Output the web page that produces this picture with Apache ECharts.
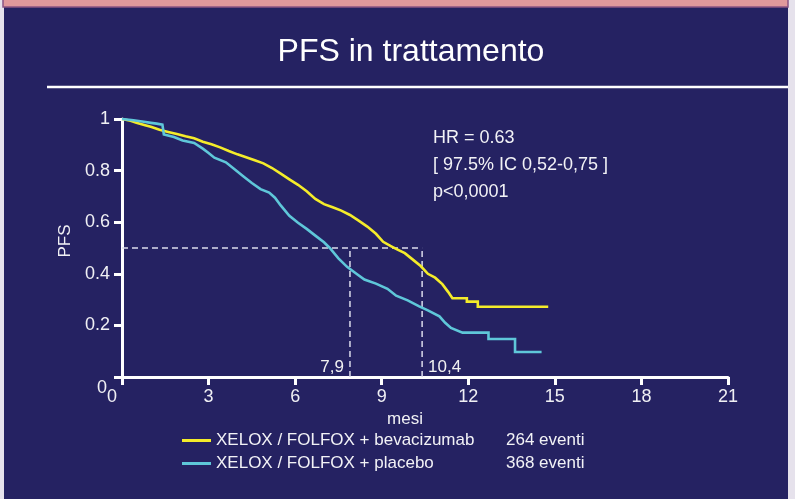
<!DOCTYPE html>
<html>
<head>
<meta charset="utf-8">
<script src="https://cdn.jsdelivr.net/npm/echarts@6/dist/echarts.min.js"></script>
<style>
  html, body { margin: 0; padding: 0; background: #e6e2ec; }
  #chart { width: 795px; height: 499px; }
</style>
</head>
<body>
<div id="chart"></div>
<script>
// Arms of the trial, events per arm and reported median PFS (months)
const seriesNames = ['XELOX / FOLFOX + bevacizumab', 'XELOX / FOLFOX + placebo'];
const eventCounts = [264, 368];
const medianMonths = [10.4, 7.9];
const medianLevel = 0.5;

// Kaplan-Meier curve: bevacizumab arm (months, PFS)
const bevaMonths = [0, 0.3, 0.5, 0.8, 1.0, 1.3, 1.6, 1.9, 2.2, 2.5, 2.8, 3.1, 3.4, 3.7, 4.0, 4.3, 4.6, 4.9, 5.2, 5.5,
  5.8, 6.1, 6.4, 6.7, 7.0, 7.3, 7.6, 7.9, 8.2, 8.5, 8.8, 9.05, 9.3, 9.55, 9.8, 10.1, 10.35, 10.6, 10.85, 11.1,
  11.3, 11.45, 11.95, 11.95, 12.33, 12.33, 14.77];
const bevaPFS = [1.0, 0.993, 0.985, 0.976, 0.97, 0.958, 0.95, 0.942, 0.933, 0.925, 0.912, 0.902, 0.89, 0.876, 0.863,
  0.852, 0.84, 0.828, 0.81, 0.788, 0.766, 0.745, 0.72, 0.69, 0.67, 0.658, 0.645, 0.628, 0.606, 0.583, 0.555, 0.524,
  0.508, 0.494, 0.48, 0.453, 0.43, 0.4, 0.385, 0.36, 0.33, 0.305, 0.305, 0.292, 0.292, 0.272, 0.272];

// Kaplan-Meier curve: placebo arm (months, PFS)
const placeboMonths = [0, 0.4, 0.7, 1.0, 1.2, 1.4, 1.45, 1.8, 2.1, 2.5, 2.8, 3.0, 3.2, 3.6, 3.9, 4.2, 4.5, 4.8, 5.1,
  5.3, 5.5, 5.8, 6.1, 6.4, 6.7, 7.0, 7.2, 7.5, 7.8, 8.1, 8.4, 8.8, 9.2, 9.5, 9.9, 10.3, 10.6, 11.0, 11.2, 11.4,
  11.8, 12.7, 12.7, 13.62, 13.62, 14.54];
const placeboPFS = [1.0, 0.995, 0.99, 0.985, 0.982, 0.978, 0.94, 0.93, 0.917, 0.907, 0.885, 0.868, 0.85, 0.832, 0.805,
  0.778, 0.752, 0.728, 0.715, 0.695, 0.665, 0.625, 0.598, 0.574, 0.548, 0.522, 0.5, 0.46, 0.427, 0.402, 0.378,
  0.362, 0.342, 0.315, 0.297, 0.274, 0.258, 0.235, 0.21, 0.19, 0.172, 0.172, 0.147, 0.147, 0.097, 0.097];

// Axis ticks
const monthTicks = [0, 3, 6, 9, 12, 15, 18, 21];
const pfsTicks = [0, 0.2, 0.4, 0.6, 0.8, 1];

// Statistics block
const statsLines = ['HR = 0.63', '[ 97.5% IC 0,52-0,75 ]', 'p<0,0001'];
const titleText = 'PFS in trattamento';

const BG = '#252262';
const colors = ['#f4ec2a', '#5fc7d9'];
const dashColor = '#dcdcec';
const FONT = '"Liberation Sans", Arial, sans-serif';

const zip = (xs, ys) => xs.map((x, i) => [x, ys[i]]);

const chart = echarts.init(document.getElementById('chart'), null, { renderer: 'canvas' });

const seriesList = [];

// dashed guides at the median
seriesList.push({
  type: 'line', silent: true, showSymbol: false, z: 3,
  data: [[0, medianLevel], [Math.max(...medianMonths), medianLevel]],
  lineStyle: { color: dashColor, width: 1.5, type: [6, 4] }
});
medianMonths.forEach((m) => {
  const onLeft = m === Math.min(...medianMonths);
  seriesList.push({
    type: 'line', silent: true, z: 3,
    symbol: 'circle', symbolSize: 0, showSymbol: true,
    data: [
      { value: [m, 0], label: {
          show: true, formatter: String(m).replace('.', ','),
          position: onLeft ? 'left' : 'right', distance: 6, offset: [0, -10],
          color: '#f2f2f2', fontSize: 17, fontFamily: FONT } },
      [m, medianLevel]
    ],
    lineStyle: { color: dashColor, width: 1.5, type: [6, 4] }
  });
});

// survival curves
[zip(bevaMonths, bevaPFS), zip(placeboMonths, placeboPFS)].forEach((d, i) => {
  seriesList.push({
    name: seriesNames[i], type: 'line', showSymbol: false, z: 5,
    data: d, color: colors[i],
    lineStyle: { color: colors[i], width: 2.6, join: 'miter' }
  });
});

const axisColor = '#ffffff';
const labelColor = '#f0f0f4';

chart.setOption({
  animation: false,
  graphic: [
    { type: 'rect', z: -20, silent: true, shape: { x: 4, y: 0, width: 784, height: 499 }, style: { fill: BG } },
    { type: 'rect', z: -19, silent: true, shape: { x: 3, y: -3, width: 785, height: 10 },
      style: { fill: '#e0999c', stroke: '#8a5483', lineWidth: 1.5 } },
    { type: 'line', z: -18, silent: true, shape: { x1: 47, y1: 87, x2: 788, y2: 87 },
      style: { stroke: '#ffffff', lineWidth: 2.5 } }
  ].concat(statsLines.map((t, i) => ({
    type: 'text', silent: true, left: 433, top: 129 + i * 27,
    style: { text: t, fill: '#f2f2f6', font: '18px ' + FONT }
  }))),
  title: {
    text: titleText, left: 406, top: 31, textAlign: 'center',
    textStyle: { color: '#ffffff', fontSize: 32, fontWeight: 'normal', fontFamily: FONT }
  },
  legend: {
    orient: 'vertical', left: 182, top: 430, itemGap: 2, padding: 0,
    icon: 'rect', itemWidth: 29, itemHeight: 3,
    data: seriesNames,
    formatter: name => {
      const i = seriesNames.indexOf(name);
      return '{n|' + name + '}{e|' + eventCounts[i] + ' eventi}';
    },
    textStyle: {
      color: '#f2f2f6', fontSize: 17, fontFamily: FONT, lineHeight: 21,
      rich: {
        n: { width: 290, fontSize: 17, fontFamily: FONT, color: '#f2f2f6' },
        e: { fontSize: 17, fontFamily: FONT, color: '#f2f2f6' }
      }
    }
  },
  grid: { left: 122, right: 67, top: 119, bottom: 122 },
  xAxis: {
    type: 'value',
    min: monthTicks[0], max: monthTicks[monthTicks.length - 1], interval: monthTicks[1] - monthTicks[0],
    name: 'mesi', nameLocation: 'middle', nameGap: 20,
    nameTextStyle: { color: labelColor, fontSize: 17, fontFamily: FONT, padding: [0, 40, 0, 0] },
    axisLine: { show: true, onZero: false, lineStyle: { color: axisColor, width: 3 } },
    axisTick: { show: true, length: 8, lineStyle: { color: axisColor, width: 3 } },
    splitLine: { show: false },
    axisLabel: {
      color: labelColor, fontSize: 18, fontFamily: FONT, margin: 11,
      formatter: v => v === 0 ? '{z|0}' : String(v),
      rich: { z: { fontSize: 18, fontFamily: FONT, color: labelColor, padding: [0, 20, 0, 0] } }
    }
  },
  yAxis: {
    type: 'value',
    min: pfsTicks[0], max: pfsTicks[pfsTicks.length - 1], interval: pfsTicks[1] - pfsTicks[0],
    name: 'PFS', nameLocation: 'middle', nameGap: 39, nameRotate: 90,
    nameTextStyle: { color: labelColor, fontSize: 17, fontFamily: FONT, padding: [0, 0, 0, 14] },
    axisLine: { show: true, onZero: false, lineStyle: { color: axisColor, width: 3 } },
    axisTick: { show: true, length: 8, lineStyle: { color: axisColor, width: 3 } },
    splitLine: { show: false },
    axisLabel: {
      color: labelColor, fontSize: 18, fontFamily: FONT, margin: 12,
      formatter: v => v === 0 ? '{z|0}' : String(Math.round(v * 10) / 10),
      rich: { z: { fontSize: 18, fontFamily: FONT, color: labelColor, padding: [22, 3, 0, 0] } }
    }
  },
  series: seriesList
});
</script>
</body>
</html>
